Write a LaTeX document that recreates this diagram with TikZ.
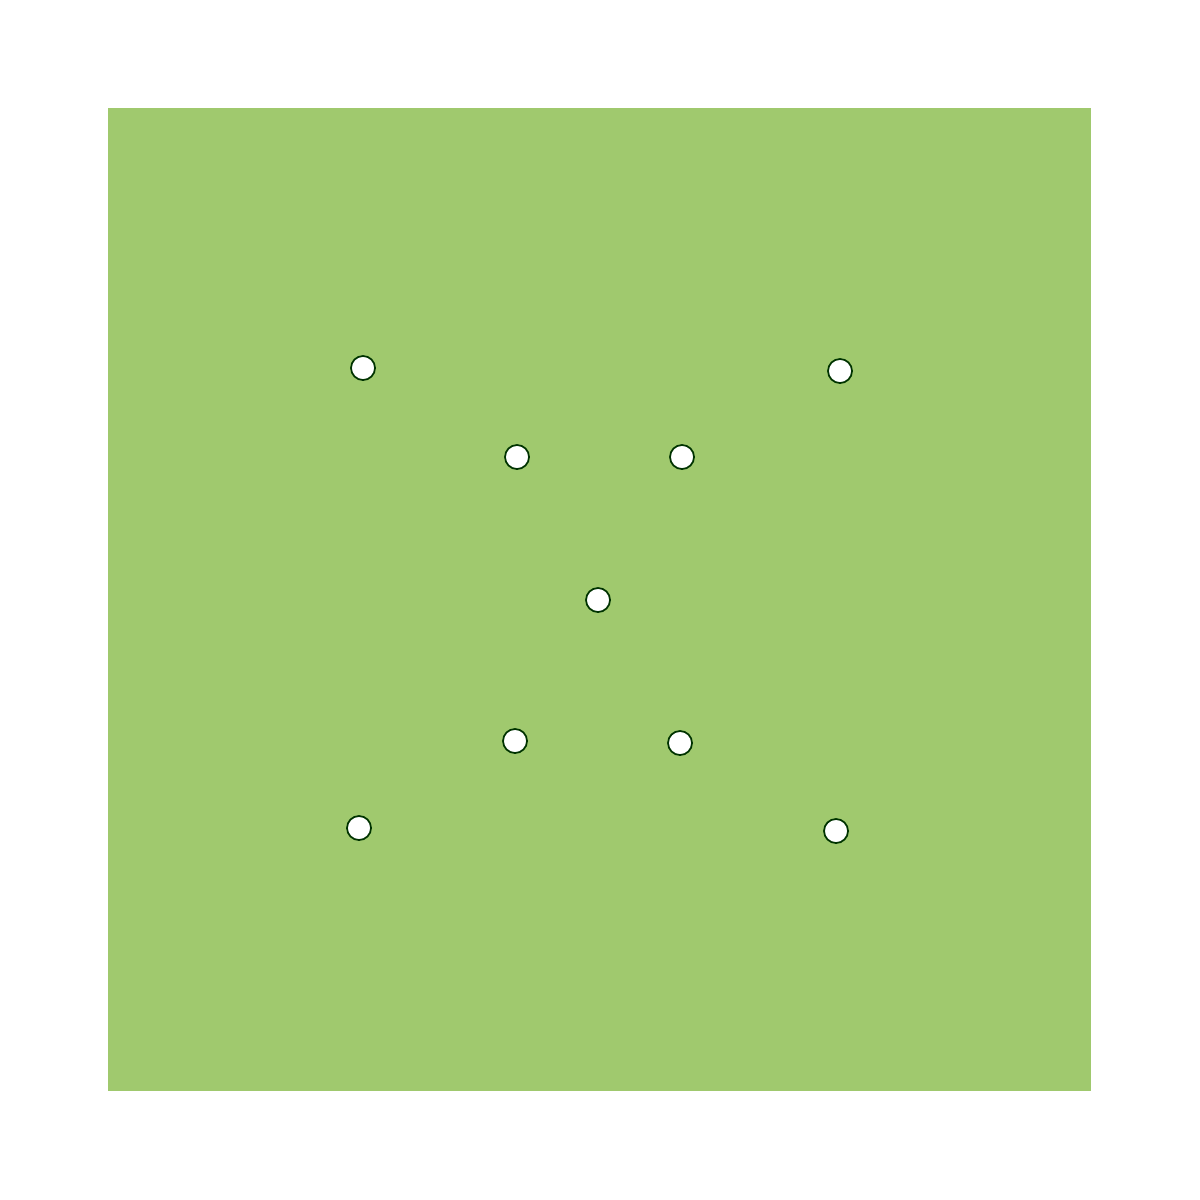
\documentclass[tikz,border=0pt]{standalone}
\definecolor{leaf}{HTML}{A0C96E}
\begin{document}
\begin{tikzpicture}[x=0.01cm,y=-0.01cm,
  hole/.style={circle,draw=black!80!green,line width=0.5pt,fill=white,minimum size=0.24cm,inner sep=0pt}]
\useasboundingbox (0,0) rectangle (1200,1200);
\fill[leaf] (108,108) rectangle (1091,1091);
\node[hole] (h1) at (363,368) {};
\node[hole] (h2) at (840,371) {};
\node[hole] (h3) at (517,457) {};
\node[hole] (h4) at (682,457) {};
\node[hole] (h5) at (598,600) {};
\node[hole] (h6) at (515,741) {};
\node[hole] (h7) at (680,743) {};
\node[hole] (h8) at (359,828) {};
\node[hole] (h9) at (836,831) {};
\end{tikzpicture}
\end{document}
